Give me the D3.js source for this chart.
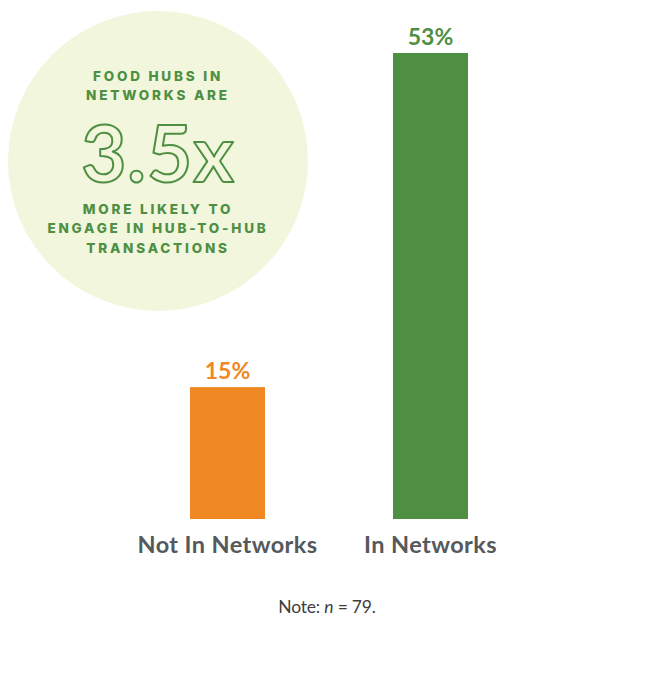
<!DOCTYPE html>
<html>
<head>
<meta charset="utf-8">
<script src="https://cdn.jsdelivr.net/npm/d3@7"></script>
<style>
  html, body { margin: 0; padding: 0; background: #fff; }
  svg { display: block; }
</style>
</head>
<body>
<div id="chart"></div>
<script>
// chart data
const categories = ['Not In Networks', 'In Networks'];
const values = [15, 53];
const valueLabels = ['15%', '53%'];
const barColors = ['#f08823', '#4e8f43'];

const calloutTop = ['FOOD HUBS IN', 'NETWORKS ARE'];
const calloutBig = '3.5x';
const calloutBottom = ['MORE LIKELY TO', 'ENGAGE IN HUB-TO-HUB', 'TRANSACTIONS'];
const note = 'n = 79.';

const width = 670;
const height = 679;
const green = '#4e8f43';
const grey = '#55595c';

const svg = d3.select('#chart').append('svg')
  .attr('width', width)
  .attr('height', height);

const x = d3.scaleBand()
  .domain(categories)
  .range([126, 532])
  .paddingInner(0.6305)
  .paddingOuter(0.31525);

const y = d3.scaleLinear()
  .domain([0, d3.max(values)])
  .range([519, 53]);

// callout circle
const callout = svg.append('g');
callout.append('circle')
  .attr('cx', 158)
  .attr('cy', 161)
  .attr('r', 150)
  .attr('fill', '#f2f6dc');

const small = (lines, y0) => {
  callout.selectAll(null)
    .data(lines)
    .enter().append('text')
    .attr('x', 158)
    .attr('y', (d, i) => y0 + i * 19.3)
    .attr('text-anchor', 'middle')
    .attr('font-family', 'Inter, sans-serif')
    .attr('font-weight', 800)
    .attr('font-size', 13.5)
    .attr('letter-spacing', 2.8)
    .attr('fill', green)
    .text(d => d);
};
small(calloutTop, 81);
small(calloutBottom, 214);

callout.append('text')
  .attr('x', 158)
  .attr('y', 182)
  .attr('text-anchor', 'middle')
  .attr('font-family', 'Lato, sans-serif')
  .attr('font-weight', 700)
  .attr('font-size', 78)
  .attr('letter-spacing', 1)
  .attr('fill', '#f2f6dc')
  .attr('stroke', green)
  .attr('stroke-width', 2)
  .attr('stroke-linejoin', 'round')
  .text(calloutBig);

// bars
const bars = svg.append('g');
bars.selectAll('rect')
  .data(values)
  .enter().append('rect')
  .attr('x', (d, i) => x(categories[i]))
  .attr('y', d => y(d))
  .attr('width', x.bandwidth())
  .attr('height', d => y(0) - y(d))
  .attr('fill', (d, i) => barColors[i]);

bars.selectAll('text.value')
  .data(values)
  .enter().append('text')
  .attr('class', 'value')
  .attr('x', (d, i) => x(categories[i]) + x.bandwidth() / 2)
  .attr('y', d => y(d) - 8.5)
  .attr('text-anchor', 'middle')
  .attr('font-family', 'Lato, sans-serif')
  .attr('font-weight', 700)
  .attr('font-size', 23)
  .attr('fill', (d, i) => barColors[i])
  .text((d, i) => valueLabels[i]);

// category axis, no line or ticks
const axis = svg.append('g')
  .attr('transform', `translate(0,${y(0)})`)
  .call(d3.axisBottom(x).tickSize(0).tickPadding(0));
axis.select('.domain').remove();
axis.selectAll('text')
  .attr('dy', null)
  .attr('y', 34)
  .attr('font-family', 'Lato, sans-serif')
  .attr('font-weight', 700)
  .attr('font-size', 23.5)
  .attr('letter-spacing', 0.4)
  .attr('fill', grey);

// note
const nt = svg.append('text')
  .attr('x', 327)
  .attr('y', 613)
  .attr('text-anchor', 'middle')
  .attr('font-family', 'Lato, sans-serif')
  .attr('font-size', 17.5)
  .attr('letter-spacing', -0.2)
  .attr('fill', '#3e3e3e');
nt.append('tspan').text('Note: ');
nt.append('tspan').attr('font-style', 'italic').text(note.split(' ')[0]);
nt.append('tspan').text(' ' + note.split(' ').slice(1).join(' '));
</script>
</body>
</html>
